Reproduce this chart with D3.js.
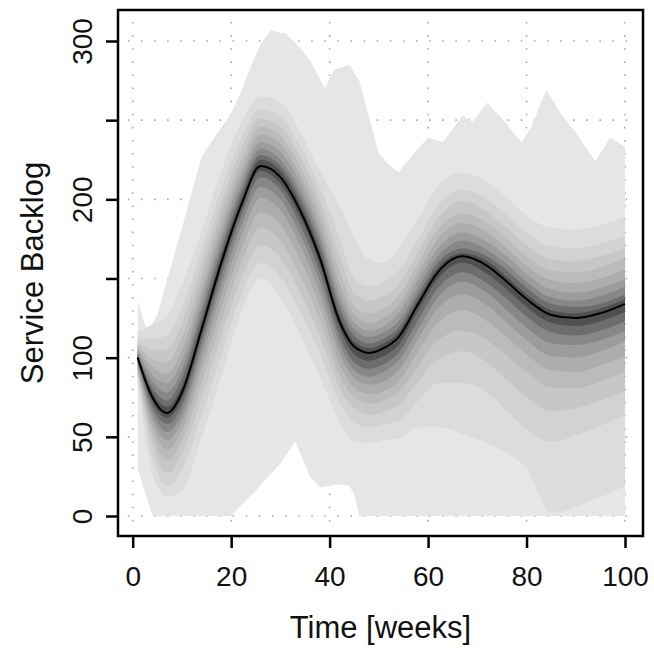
<!DOCTYPE html>
<meta charset="utf-8">
<script src="https://d3js.org/d3.v7.min.js"></script>
<body style="margin:0;background:#fff">
<div id="chart"></div>
</body>
<script>
    const weeks = [1, 4, 7, 10, 14, 18, 22, 26, 30, 34, 38, 42, 45, 48, 51, 54, 58, 62, 67, 72, 76, 80, 85, 90, 95, 100];

    const med = [100, 75, 65, 78, 118, 160, 196, 221, 214, 193, 163, 123, 107, 103, 106, 113, 134, 154, 164, 158, 148, 137, 127, 125, 128, 134];

    const q95 = [116, 121, 126, 146, 180, 218, 248, 265, 261, 243, 218, 196, 176, 162, 160, 169, 188, 208, 217, 211, 201, 190, 182, 181, 184, 189];
    const q90 = [112, 112, 114, 132, 168, 207, 238, 257, 252, 234, 208, 176, 150, 145, 148, 155, 175, 196, 206, 200, 190, 179, 170, 169, 172, 177];
    const q85 = [110, 105, 105, 122, 159, 198, 231, 251, 246, 227, 200, 164, 141, 136, 139, 146, 167, 188, 199, 192, 182, 171, 162, 161, 164, 169];
    const q80 = [108, 99, 97, 113, 151, 191, 224, 246, 240, 221, 193, 155, 133, 128, 131, 139, 160, 181, 191, 185, 175, 164, 155, 154, 157, 163];
    const q75 = [106, 94, 90, 105, 144, 184, 218, 241, 235, 215, 187, 147, 127, 122, 125, 133, 154, 175, 185, 179, 169, 158, 149, 147, 150, 156];
    const q70 = [105, 89, 84, 98, 138, 178, 213, 236, 230, 210, 181, 141, 122, 117, 120, 128, 149, 169, 179, 173, 164, 153, 143, 141, 144, 150];
    const q65 = [103, 85, 78, 92, 132, 173, 208, 232, 225, 205, 176, 136, 118, 113, 116, 123, 144, 164, 174, 168, 159, 148, 138, 136, 139, 145];
    const q60 = [102, 81, 73, 87, 127, 168, 204, 228, 221, 201, 171, 131, 114, 109, 112, 119, 140, 160, 169, 164, 155, 144, 134, 132, 134, 140];
    const q55 = [101, 78, 69, 82, 122, 164, 200, 225, 218, 197, 167, 127, 110, 106, 109, 116, 137, 157, 166, 161, 151, 140, 130, 128, 131, 137];
    const q45 = [99, 72, 62, 74, 114, 156, 193, 218, 210, 189, 159, 119, 102, 98, 101, 108, 130, 150, 160, 153, 143, 132, 122, 120, 123, 129];
    const q40 = [98, 69, 58, 70, 110, 152, 189, 214, 206, 184, 154, 114, 97, 93, 96, 103, 124, 144, 154, 147, 137, 126, 116, 114, 117, 123];
    const q35 = [97, 65, 53, 65, 105, 146, 183, 208, 200, 178, 148, 109, 92, 88, 91, 98, 118, 138, 148, 141, 130, 119, 109, 108, 111, 117];
    const q30 = [95, 61, 48, 60, 99, 140, 176, 201, 193, 171, 141, 103, 87, 83, 85, 92, 112, 131, 140, 133, 122, 111, 101, 100, 104, 110];
    const q25 = [94, 56, 42, 54, 92, 132, 168, 192, 184, 162, 133, 96, 81, 77, 79, 85, 104, 122, 130, 123, 113, 102, 92, 91, 95, 101];
    const q20 = [92, 51, 35, 47, 84, 123, 159, 182, 174, 152, 124, 89, 75, 71, 73, 78, 95, 111, 117, 111, 101, 91, 81, 81, 85, 91];
    const q15 = [90, 45, 27, 39, 75, 113, 149, 171, 163, 141, 114, 81, 68, 64, 66, 70, 85, 99, 104, 97, 86, 75, 66, 68, 73, 79];
    const q10 = [88, 37, 19, 29, 64, 102, 139, 160, 151, 129, 103, 72, 59, 56, 58, 60, 73, 84, 84, 78, 66, 55, 47, 51, 57, 64];
    const q05 = [84, 27, 12, 16, 50, 88, 128, 150, 138, 115, 88, 60, 47, 46, 48, 49, 56, 56, 52, 46, 40, 30, 2, 6, 12, 19];

    // outer envelope (max / min of the runs)
    const maxWeeks = [1, 3, 5, 8, 11, 14, 17, 20, 22, 24, 26, 28, 30, 31, 33, 36, 39, 41, 44, 46, 48, 50, 52, 54, 56, 58, 60, 63, 67, 69, 72, 75, 79, 81, 84, 87, 90, 94, 97, 100];
    const maxVals = [136, 116, 127, 160, 193, 227, 241, 254, 268, 284, 298, 307, 305, 305, 299, 288, 270, 282, 285, 275, 252, 229, 222, 217, 225, 232, 239, 236, 253, 249, 261, 251, 236, 246, 269, 254, 242, 224, 239, 233];
    const minWeeks = [1, 2, 3, 4, 20, 22, 25, 27, 30, 33, 34, 36, 38, 40, 42, 44, 45, 46, 100];
    const minVals = [30, 20, 10, 0, 0, 7, 16, 23, 33, 47, 40, 25, 18, 19, 20, 19, 14, 0, 0];

    const xTicks = [0, 20, 40, 60, 80, 100];
    const yTicks = [0, 50, 100, 150, 200, 250, 300];
    const yLabels = [0, 50, 100, 200, 300];

    const W = 654, H = 648;
    const box = {left: 118, top: 10, right: 643, bottom: 536};

    const svg = d3.select("#chart").append("svg")
        .attr("width", W)
        .attr("height", H)
        .style("font-family", "'Liberation Sans', Arial, sans-serif");

    const x = d3.scaleLinear().domain([0, 100]).range([132.7, 625]);
    const y = d3.scaleLinear().domain([0, 300]).range([516, 41]);

    // dotted grid under the fan
    const grid = svg.append("g")
        .attr("stroke", "#a8a8a8")
        .attr("stroke-width", 1.6)
        .attr("stroke-dasharray", "1.6,11.5");
    grid.selectAll(".gx").data(xTicks).enter().append("line")
        .attr("x1", d => x(d)).attr("x2", d => x(d))
        .attr("y1", y(312)).attr("y2", y(-4.5));
    grid.selectAll(".gy").data(yTicks).enter().append("line")
        .attr("y1", d => y(d)).attr("y2", d => y(d))
        .attr("x1", x(-1)).attr("x2", x(101.5));

    // outer band: min .. max
    const outerPts = maxWeeks.map((w, i) => [x(w), y(maxVals[i])])
        .concat(minWeeks.map((w, i) => [x(w), y(minVals[i])]).reverse());
    svg.append("path")
        .attr("d", d3.line()(outerPts) + "Z")
        .attr("fill", "#e6e6e6");

    const bands = [
        [q05, q95], [q10, q90], [q15, q85], [q20, q80], [q25, q75],
        [q30, q70], [q35, q65], [q40, q60], [q45, q55]
    ];
    const shades = ["#dcdcdc", "#d2d2d2", "#c7c7c7", "#bbbbbb", "#adadad", "#9c9c9c", "#878787", "#6d6d6d", "#505050"];

    const area = d3.area()
        .curve(d3.curveMonotoneX)
        .x(d => x(d.w))
        .y0(d => y(d.lo))
        .y1(d => y(d.hi));

    bands.forEach((b, k) => {
        const pts = weeks.map((w, i) => ({w: w, lo: b[0][i], hi: b[1][i]}));
        svg.append("path")
            .attr("d", area(pts))
            .attr("fill", shades[k]);
    });

    svg.append("path")
        .datum(weeks.map((w, i) => [w, med[i]]))
        .attr("d", d3.line().curve(d3.curveMonotoneX).x(d => x(d[0])).y(d => y(d[1])))
        .attr("fill", "none")
        .attr("stroke", "#000")
        .attr("stroke-width", 2);

    // box
    svg.append("rect")
        .attr("x", box.left).attr("y", box.top)
        .attr("width", box.right - box.left).attr("height", box.bottom - box.top)
        .attr("fill", "none")
        .attr("stroke", "#000")
        .attr("stroke-width", 2.5);

    const xAxis = svg.append("g")
        .attr("transform", "translate(0," + box.bottom + ")")
        .call(d3.axisBottom(x).tickValues(xTicks).tickSize(12).tickPadding(18));
    xAxis.select(".domain").remove();
    xAxis.selectAll(".tick line").attr("stroke-width", 2.5);
    xAxis.selectAll(".tick text").style("font-size", "28px").attr("fill", "#111");

    const yAxis = svg.append("g")
        .attr("transform", "translate(" + box.left + ",0)")
        .call(d3.axisLeft(y).tickValues(yTicks).tickSize(12)
            .tickFormat(d => yLabels.includes(d) ? d : ""));
    yAxis.select(".domain").remove();
    yAxis.selectAll(".tick line").attr("stroke-width", 2.5);
    yAxis.selectAll(".tick text")
        .attr("x", 0).attr("y", 0).attr("dy", 0)
        .attr("transform", "translate(-26,0) rotate(-90)")
        .attr("text-anchor", "middle")
        .style("font-size", "28px")
        .attr("fill", "#111");

    svg.append("text")
        .attr("x", (box.left + box.right) / 2)
        .attr("y", 638)
        .attr("text-anchor", "middle")
        .style("font-size", "31px")
        .attr("fill", "#111")
        .text("Time [weeks]");

    svg.append("text")
        .attr("transform", "translate(43," + ((box.top + box.bottom) / 2) + ") rotate(-90)")
        .attr("text-anchor", "middle")
        .style("font-size", "31px")
        .attr("fill", "#111")
        .text("Service Backlog");
</script>
</html>
